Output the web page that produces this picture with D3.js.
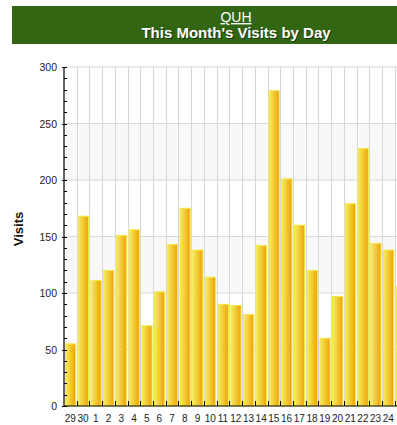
<!DOCTYPE html>
<html>
<head>
<meta charset="utf-8">
<script src="https://cdn.jsdelivr.net/npm/d3@7"></script>
<style>
  body { margin: 0; overflow: hidden; background: #fff; }
  text { font-family: Arial, "Liberation Sans", sans-serif; }
</style>
</head>
<body>
<svg id="chart"></svg>
<script>
// data
const days = ["29","30","1","2","3","4","5","6","7","8","9","10","11","12","13","14","15","16","17","18","19","20","21","22","23","24","25"];
const visits = [55,168,111,120,151,156,71,101,143,175,138,114,90,89,81,142,279,201,160,120,60,97,179,228,144,138,106];
// labels visible inside the window (the last one falls off the edge)
const dayLabels = days.slice(0, 26);
const yTicks = [0,50,100,150,200,250,300];
const chartTitle = "QUH";
const chartSubtitle = "This Month's Visits by Day";
const yTitle = "Visits";

const width = 460, height = 425;
const svg = d3.select("#chart").attr("width", width).attr("height", height);

// header bar
svg.append("rect")
    .attr("x", 12).attr("y", 6)
    .attr("width", width - 12).attr("height", 38)
    .attr("fill", "#326613");

const cx = 236;
svg.append("text")
    .attr("x", cx).attr("y", 22)
    .attr("text-anchor", "middle")
    .attr("font-size", "14px")
    .attr("fill", "#fff")
    .attr("text-decoration", "underline")
    .text(chartTitle);

svg.append("text")
    .attr("x", cx + 1).attr("y", 39)
    .attr("text-anchor", "middle")
    .attr("font-size", "15px").attr("font-weight", "bold")
    .attr("fill", "#1a330a")
    .text(chartSubtitle);
svg.append("text")
    .attr("x", cx).attr("y", 38)
    .attr("text-anchor", "middle")
    .attr("font-size", "15px").attr("font-weight", "bold")
    .attr("fill", "#fff")
    .text(chartSubtitle);

// scales
const x0 = 64, step = 12.72;
const x = d3.scaleBand()
    .domain(days)
    .range([x0, x0 + step * days.length])
    .padding(0);

const y = d3.scaleLinear()
    .domain([0, 300])
    .range([406, 67]);

// alternating bands
const bands = [[100,150],[200,250]];
svg.selectAll("rect.band")
    .data(bands)
    .enter().append("rect")
    .attr("class", "band")
    .attr("x", x0).attr("width", width - x0)
    .attr("y", d => y(d[1]))
    .attr("height", d => y(d[0]) - y(d[1]))
    .attr("fill", "#f8f8f8");

// horizontal grid
svg.selectAll("line.hgrid")
    .data(yTicks.slice(1))
    .enter().append("line")
    .attr("class", "hgrid")
    .attr("x1", x0).attr("x2", width)
    .attr("y1", d => y(d)).attr("y2", d => y(d))
    .attr("stroke", "#d8d8d8");

// vertical grid between categories
svg.selectAll("line.vgrid")
    .data(days.slice(1))
    .enter().append("line")
    .attr("class", "vgrid")
    .attr("x1", d => Math.round(x(d)) + 0.5).attr("x2", d => Math.round(x(d)) + 0.5)
    .attr("y1", y(300)).attr("y2", y(0))
    .attr("stroke", "#d8d8d8");

// gradient for bars
const grad = svg.append("defs").append("linearGradient")
    .attr("id", "barGrad")
    .attr("x1", "0%").attr("x2", "100%").attr("y1", "0%").attr("y2", "0%");
grad.append("stop").attr("offset", "0%").attr("stop-color", "#f4ec66");
grad.append("stop").attr("offset", "50%").attr("stop-color", "#f2c930");
grad.append("stop").attr("offset", "100%").attr("stop-color", "#eea00c");

// bars
svg.selectAll("rect.bar")
    .data(visits)
    .enter().append("rect")
    .attr("class", "bar")
    .attr("x", (d, i) => x(days[i]) + 1.5)
    .attr("width", x.bandwidth() - 2.5)
    .attr("y", d => y(d))
    .attr("height", d => y(0) - y(d))
    .attr("fill", "url(#barGrad)")
    .attr("stroke", "#f3ea4a")
    .attr("stroke-width", 1);

// y axis
const axis = svg.append("g");
axis.append("line")
    .attr("x1", x0).attr("x2", x0)
    .attr("y1", y(300)).attr("y2", y(0))
    .attr("stroke", "#000").attr("stroke-width", 1.2);
axis.selectAll("line.minor")
    .data(d3.range(0, 301, 10))
    .enter().append("line")
    .attr("x1", d => yTicks.includes(d) ? x0 - 2 : x0)
    .attr("x2", x0 + 3)
    .attr("y1", d => Math.round(y(d)) + 0.5).attr("y2", d => Math.round(y(d)) + 0.5)
    .attr("stroke", "#000");
axis.selectAll("text.ylab")
    .data(yTicks)
    .enter().append("text")
    .attr("x", 57).attr("y", d => y(d) + 4)
    .attr("text-anchor", "end")
    .attr("font-size", "10.5px")
    .attr("fill", "#222")
    .text(d => d);

// x axis
axis.append("line")
    .attr("x1", x0).attr("x2", width)
    .attr("y1", y(0)).attr("y2", y(0))
    .attr("stroke", "#000").attr("stroke-width", 1.2);
axis.selectAll("line.xtick")
    .data(days.slice(1))
    .enter().append("line")
    .attr("x1", d => Math.round(x(d)) + 0.5).attr("x2", d => Math.round(x(d)) + 0.5)
    .attr("y1", y(0) - 5).attr("y2", y(0))
    .attr("stroke", "#000");
axis.selectAll("text.xlab")
    .data(dayLabels)
    .enter().append("text")
    .attr("x", d => x(d) + x.bandwidth() / 2)
    .attr("y", 422)
    .attr("text-anchor", "middle")
    .attr("font-size", "10px")
    .attr("fill", "#222")
    .text(d => d);

// y title
svg.append("text")
    .attr("transform", "translate(23,229) rotate(-90)")
    .attr("text-anchor", "middle")
    .attr("font-size", "13px").attr("font-weight", "bold")
    .attr("fill", "#111")
    .text(yTitle);
</script>
</body>
</html>
